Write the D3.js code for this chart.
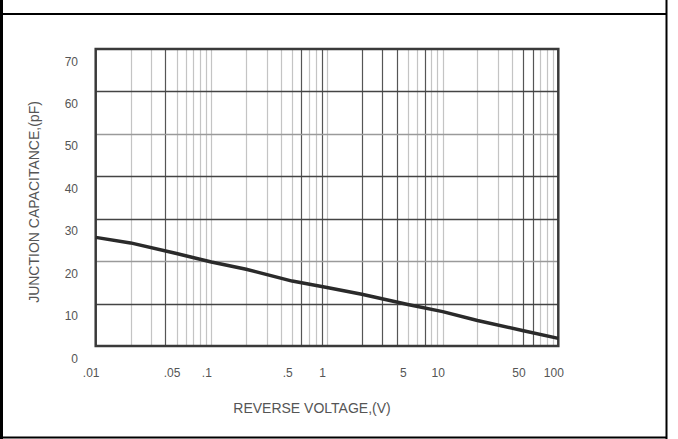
<!DOCTYPE html>
<html>
<head>
<meta charset="utf-8">
<script src="https://cdn.jsdelivr.net/npm/d3@7"></script>
<style>
	body { margin: 0; background: #fff; }
	svg { display: block; }
	text { font-family: 'Liberation Sans', Arial, sans-serif; fill: #555; }
</style>
</head>
<body>
<div id="chart"></div>
<script>
// curve: reverse voltage (V) vs junction capacitance (pF)
var voltage = [0.01, 0.02, 0.05, 0.1, 0.2, 0.5, 1, 2, 5, 10, 20, 50, 100];
var capacitance = [25.6, 24.3, 21.8, 19.8, 18.1, 15.3, 13.8, 12.2, 9.8, 8.1, 6.0, 3.6, 1.8];

var xTickValues = [0.01, 0.05, 0.1, 0.5, 1, 5, 10, 50, 100];
var xTickLabels = ['.01', '.05', '.1', '.5', '1', '5', '10', '50', '100'];
var yTickValues = [0, 10, 20, 30, 40, 50, 60, 70];

// gridlines that came out darker in the printed original
var darkX = [0.04, 0.6, 0.9, 2, 3, 4, 7, 50, 60];
var darkY = [10, 30, 40, 60];

(function () {
	'use strict';

	var W = 678, H = 439;
	var left = 95.7, right = 558.3, top = 49, bottom = 346;

	var svg = d3.select('#chart')
		.append('svg')
		.attr('width', W)
		.attr('height', H);

	// table cell frame
	svg.append('line').attr('x1', 1.5).attr('x2', 1.5).attr('y1', 0).attr('y2', H)
		.attr('stroke', '#000').attr('stroke-width', 3);
	svg.append('line').attr('x1', 666.5).attr('x2', 666.5).attr('y1', 0).attr('y2', H)
		.attr('stroke', '#000').attr('stroke-width', 2);
	svg.append('line').attr('x1', 0).attr('x2', 667).attr('y1', 14).attr('y2', 14)
		.attr('stroke', '#000').attr('stroke-width', 2);
	svg.append('line').attr('x1', 0).attr('x2', 667).attr('y1', 437.5).attr('y2', 437.5)
		.attr('stroke', '#000').attr('stroke-width', 2);

	var x = d3.scaleLog().domain([0.01, 100]).range([left, right]);
	var y = d3.scaleLinear().domain([0, 70]).range([bottom, top]);

	// every 1..9 line of each decade
	var gridX = [];
	[0.01, 0.1, 1, 10].forEach(function (dec) {
		for (var i = 2; i <= 9; i++) gridX.push(+(dec * i).toPrecision(3));
	});
	gridX = gridX.concat([0.1, 1, 10]);

	var isDark = function (list, v) {
		return list.some(function (d) { return Math.abs(d - v) < 1e-9; });
	};

	svg.selectAll('.vgrid')
		.data(gridX)
		.enter()
		.append('line')
		.attr('x1', function (d) { return Math.round(x(d)) + 0.5; })
		.attr('x2', function (d) { return Math.round(x(d)) + 0.5; })
		.attr('y1', top)
		.attr('y2', bottom)
		.attr('stroke', function (d) { return isDark(darkX, d) ? '#555' : '#c4c4c4'; })
		.attr('stroke-width', 1.2);

	svg.selectAll('.hgrid')
		.data(yTickValues.slice(1, -1))
		.enter()
		.append('line')
		.attr('x1', left)
		.attr('x2', right)
		.attr('y1', function (d) { return Math.round(y(d)) + 0.5; })
		.attr('y2', function (d) { return Math.round(y(d)) + 0.5; })
		.attr('stroke', function (d) { return isDark(darkY, d) ? '#444' : '#9a9a9a'; })
		.attr('stroke-width', 1.3);

	// plot border
	svg.append('rect')
		.attr('x', left)
		.attr('y', top)
		.attr('width', right - left)
		.attr('height', bottom - top)
		.attr('fill', 'none')
		.attr('stroke', '#3a3a3a')
		.attr('stroke-width', 2.5);

	var data = voltage.map(function (v, i) { return [v, capacitance[i]]; });
	var line = d3.line()
		.x(function (d) { return x(d[0]); })
		.y(function (d) { return y(d[1]); });

	svg.append('path')
		.datum(data)
		.attr('d', line)
		.attr('fill', 'none')
		.attr('stroke', '#2a2a2a')
		.attr('stroke-width', 3.5)
		.attr('stroke-linejoin', 'round');

	// axes: labels only, set slightly off the grid as in the print
	var xAxis = d3.axisBottom(x)
		.tickValues(xTickValues)
		.tickFormat(function (d, i) { return xTickLabels[i]; })
		.tickSize(0)
		.tickPadding(0);
	var gx = svg.append('g')
		.attr('transform', 'translate(0,' + bottom + ')')
		.call(xAxis);
	gx.select('.domain').remove();
	gx.selectAll('text')
		.attr('dx', -5)
		.attr('y', 31)
		.attr('dy', 0)
		.style('font-size', '12px')
		.style('fill', '#555');

	var yAxis = d3.axisLeft(y)
		.tickValues(yTickValues)
		.tickSize(0)
		.tickPadding(0);
	var gy = svg.append('g')
		.attr('transform', 'translate(78,0)')
		.call(yAxis);
	gy.select('.domain').remove();
	gy.selectAll('text')
		.attr('dy', 16)
		.style('font-size', '12px')
		.style('fill', '#555');

	svg.append('text')
		.attr('x', 312)
		.attr('y', 413)
		.style('text-anchor', 'middle')
		.style('font-size', '14px')
		.text('REVERSE VOLTAGE,(V)');

	svg.append('text')
		.attr('transform', 'translate(39,202) rotate(-90)')
		.style('text-anchor', 'middle')
		.style('font-size', '14px')
		.text('JUNCTION CAPACITANCE,(pF)');
})();
</script>
</body>
</html>
